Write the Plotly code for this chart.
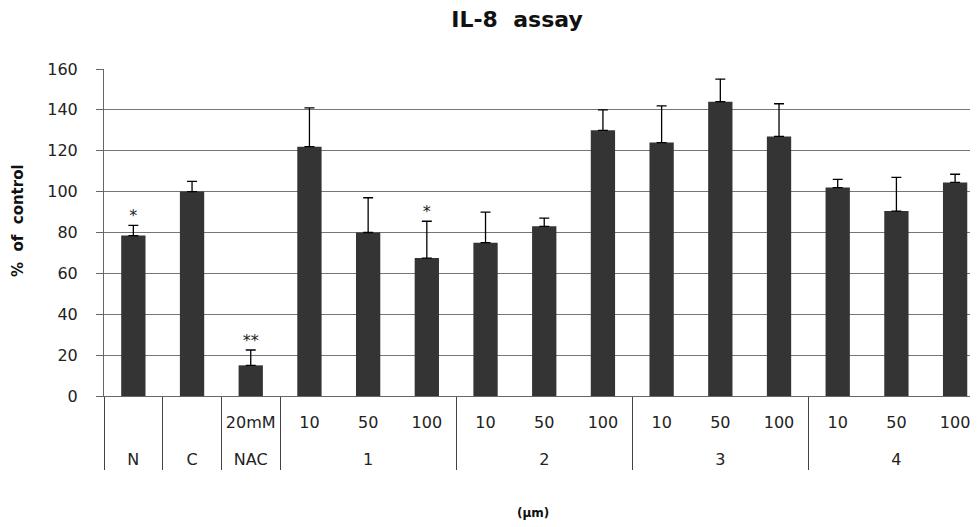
import plotly.graph_objects as go

groups = ["N", "C", "NAC", "1", "1", "1", "2", "2", "2", "3", "3", "3", "4", "4", "4"]
doses = ["", "", "20mM", "10", "50", "100", "10", "50", "100",
         "10", "50", "100", "10", "50", "100"]
values = [78.5, 100, 15, 122, 80, 67.5, 75, 83, 130, 124, 144, 127, 102, 90.5, 104.5]
errors = [5, 5, 7.5, 19, 17, 18, 15, 4, 10, 18, 11, 16, 4, 16.5, 4]
signif = ["*", "", "**", "", "", "*", "", "", "", "", "", "", "", "", ""]
y_ticks = [0, 20, 40, 60, 80, 100, 120, 140, 160]

FONT = "DejaVu Sans"
GRID = "#767676"
AXIS = "#666666"

# the page body has an 8px margin; size the figure so it ends at the window edge
W, H = 970, 519
OFF = 8

outer = ["<br>" + g for g in groups]
# empty dose cells: a taller blank keeps the two label rows as far apart as in the reference
inner = [d if d else "<span style='font-size:23px'>\u00a0</span>" for d in doses]

fig = go.Figure()
fig.add_trace(go.Bar(
    x=[outer, inner], y=values,
    marker=dict(color="#343434", line=dict(width=0)),
    error_y=dict(type="data", array=errors, symmetric=False, arrayminus=[0] * len(errors),
                 color="#000000", thickness=1.3, width=5),
    showlegend=False,
))
fig.add_trace(go.Scatter(
    x=[outer, inner], y=[v + e for v, e in zip(values, errors)],
    mode="text", text=signif, textposition="top center",
    textfont=dict(family=FONT, size=16, color="#222222"),
    showlegend=False, hoverinfo="skip",
))

fig.update_layout(
    width=W, height=H,
    margin=dict(l=104 - OFF, r=0, t=69 - OFF, b=H - (69 - OFF) - 327),
    paper_bgcolor="white", plot_bgcolor="white",
    bargap=0.586,
    font=dict(family=FONT, size=16, color="#222222"),
    title=dict(text="<b>IL-8\u00a0\u00a0assay</b>", x=(517 - OFF) / W, xref="container", xanchor="center",
               y=1 - (19 - OFF) / H, yref="container", yanchor="middle",
               font=dict(family=FONT, size=22, color="#111111")),
    xaxis=dict(
        type="multicategory", range=[-0.5, 14.39], automargin=False,
        showline=True, linecolor=AXIS, linewidth=1,
        showgrid=False, ticks="", ticklabelstandoff=12,
        showdividers=True, dividercolor="#444444", dividerwidth=1,
        tickfont=dict(family=FONT, size=16, color="#222222"),
    ),
    yaxis=dict(
        range=[0, 160], tickvals=y_ticks, automargin=False,
        showgrid=True, gridcolor=GRID, gridwidth=1,
        showline=True, linecolor=AXIS, linewidth=1,
        ticks="outside", ticklen=7, tickcolor=AXIS,
        ticklabelstandoff=15,
        zeroline=False,
        tickfont=dict(family=FONT, size=16, color="#222222"),
    ),
    annotations=[
        dict(text="<b>%\u00a0\u00a0of\u00a0\u00a0control</b>", textangle=-90,
             xref="paper", yref="paper", x=(18 - 104) / 874, y=(396 - 221) / 327,
             xanchor="center", yanchor="middle", showarrow=False,
             font=dict(family=FONT, size=15, color="#111111")),
        dict(text="<b>(\u03bcm)</b>",
             xref="paper", yref="paper", x=(533 - 104) / 874, y=-(513 - 396) / 327,
             xanchor="center", yanchor="middle", showarrow=False,
             font=dict(family=FONT, size=12, color="#111111")),
    ],
)

fig.write_html("out.html")
